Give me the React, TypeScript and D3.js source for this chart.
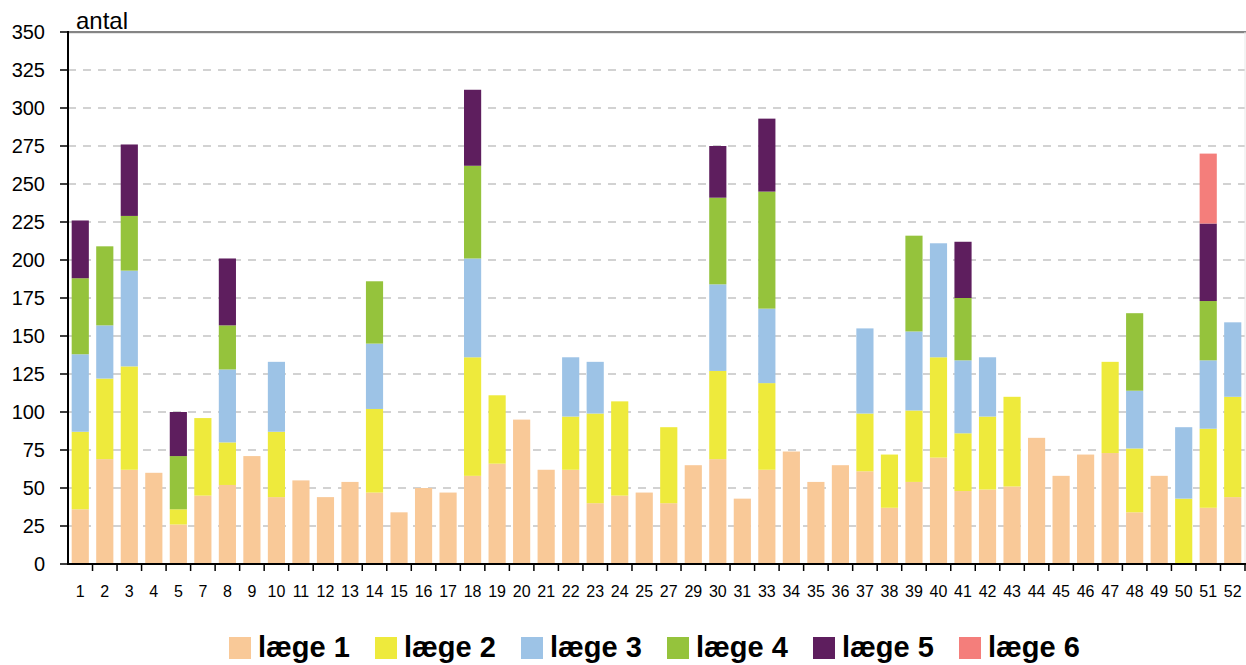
import React from "react";
import * as d3 from "d3";

const weeks = [1,2,3,4,5,7,8,9,10,11,12,13,14,15,16,17,18,19,20,21,22,23,24,25,27,29,30,31,33,34,35,36,37,38,39,40,41,42,43,44,45,46,47,48,49,50,51,52];

const laege1 = [36,69,62,60,26, 45,52,71,44,55, 44,54,47,34,50, 47,58,66,95,62, 62,40,45,47,40, 65,69,43,62,74, 54,65,61,37,54, 70,48,49,51,83, 58,72,73,34,58, 0,37,44];
const laege2 = [51,53,68,0,10, 51,28,0,43,0, 0,0,55,0,0, 0,78,45,0,0, 35,59,62,0,50, 0,58,0,57,0, 0,0,38,35,47, 66,38,48,59,0, 0,0,60,42,0, 43,52,66];
const laege3 = [51,35,63,0,0, 0,48,0,46,0, 0,0,43,0,0, 0,65,0,0,0, 39,34,0,0,0, 0,57,0,49,0, 0,0,56,0,52, 75,48,39,0,0, 0,0,0,38,0, 47,45,49];
const laege4 = [50,52,36,0,35, 0,29,0,0,0, 0,0,41,0,0, 0,61,0,0,0, 0,0,0,0,0, 0,57,0,77,0, 0,0,0,0,63, 0,41,0,0,0, 0,0,0,51,0, 0,39,0];
const laege5 = [38,0,47,0,29, 0,44,0,0,0, 0,0,0,0,0, 0,50,0,0,0, 0,0,0,0,0, 0,34,0,48,0, 0,0,0,0,0, 0,37,0,0,0, 0,0,0,0,0, 0,51,0];
const laege6 = [0,0,0,0,0, 0,0,0,0,0, 0,0,0,0,0, 0,0,0,0,0, 0,0,0,0,0, 0,0,0,0,0, 0,0,0,0,0, 0,0,0,0,0, 0,0,0,0,0, 0,46,0];

const seriesNames = ["læge 1", "læge 2", "læge 3", "læge 4", "læge 5", "læge 6"];
const seriesColors = ["#F9C998", "#EEEA3C", "#9DC3E6", "#95C33C", "#5E1E5E", "#F47E7B"];
const yTicks = [0,25,50,75,100,125,150,175,200,225,250,275,300,325,350];

const W = 1246, H = 665;
const left = 68, right = 1245, top = 32, bottom = 564;
const FONT = "'Liberation Sans', Arial, sans-serif";

export default function App() {
  const allSeries = [laege1, laege2, laege3, laege4, laege5, laege6];
  const rows = weeks.map((w, i) => {
    const r: any = { week: String(w) };
    seriesNames.forEach((n, j) => (r[n] = allSeries[j][i]));
    return r;
  });
  const stacked = d3.stack<any>().keys(seriesNames)(rows);

  const x = d3.scaleBand<string>().domain(weeks.map(String)).range([left, right]).paddingInner(0.3).paddingOuter(0.15);
  const xb = d3.scaleBand<string>().domain(weeks.map(String)).range([left, right]).padding(0);
  const y = d3.scaleLinear().domain([0, 350]).range([bottom, top]);

  return (
    <svg width={W} height={H} style={{ position: "absolute", left: 0, top: 0, background: "#fff" }} fontFamily={FONT}>
      {/* gridlines */}
      {yTicks.filter(t => t > 0 && t < 350).map(t => (
        <line key={"g" + t} x1={left} x2={right} y1={y(t)} y2={y(t)} stroke="#c4c4c4" strokeWidth={1.5} strokeDasharray="8,7" />
      ))}
      {/* top border & right border */}
      <line x1={left} x2={W} y1={top} y2={top} stroke="#858585" strokeWidth={2} />
      <line x1={left} x2={W} y1={top + 1.5} y2={top + 1.5} stroke="#e6e6e6" strokeWidth={1} />
      <line x1={right} x2={right} y1={top} y2={bottom} stroke="#e8e8e8" strokeWidth={1} />
      {/* bars */}
      {stacked.map((s, si) => (
        <g key={s.key} fill={seriesColors[si]}>
          {s.map((d, i) => {
            const h = y(d[0]) - y(d[1]);
            if (h <= 0) return null;
            return <rect key={i} x={x(String(weeks[i]))} width={x.bandwidth()} y={y(d[1])} height={h} />;
          })}
        </g>
      ))}
      {/* y axis */}
      <line x1={left} x2={left} y1={top - 1} y2={bottom + 1} stroke="#000" strokeWidth={2} />
      {yTicks.map(t => (
        <g key={"y" + t}>
          <line x1={left - 8} x2={left} y1={y(t)} y2={y(t)} stroke="#000" strokeWidth={1.5} />
          <text x={45} y={y(t)} dy="0.35em" textAnchor="end" fontSize={20} fill="#000">{t}</text>
        </g>
      ))}
      <text x={76} y={29} fontSize={24} fill="#000">antal</text>
      {/* x axis */}
      <line x1={left} x2={W} y1={bottom} y2={bottom} stroke="#000" strokeWidth={2} />
      {weeks.map((w, i) => (
        <line key={"xt" + i} x1={xb(String(w))! + xb.bandwidth()} x2={xb(String(w))! + xb.bandwidth()} y1={bottom} y2={bottom + 7} stroke="#000" strokeWidth={1.5} />
      ))}
      {weeks.map((w, i) => (
        <text key={"xl" + i} x={xb(String(w))! + xb.bandwidth() / 2} y={597} textAnchor="middle" fontSize={16} fill="#000">{w}</text>
      ))}
      {/* legend */}
      {seriesNames.map((n, i) => (
        <g key={"lg" + i} transform={`translate(${229 + 146 * i},0)`}>
          <rect x={0} y={637} width={22} height={22} fill={seriesColors[i]} />
          <text x={29} y={657} fontSize={29} fontWeight="bold" fill="#000">{n}</text>
        </g>
      ))}
    </svg>
  );
}
